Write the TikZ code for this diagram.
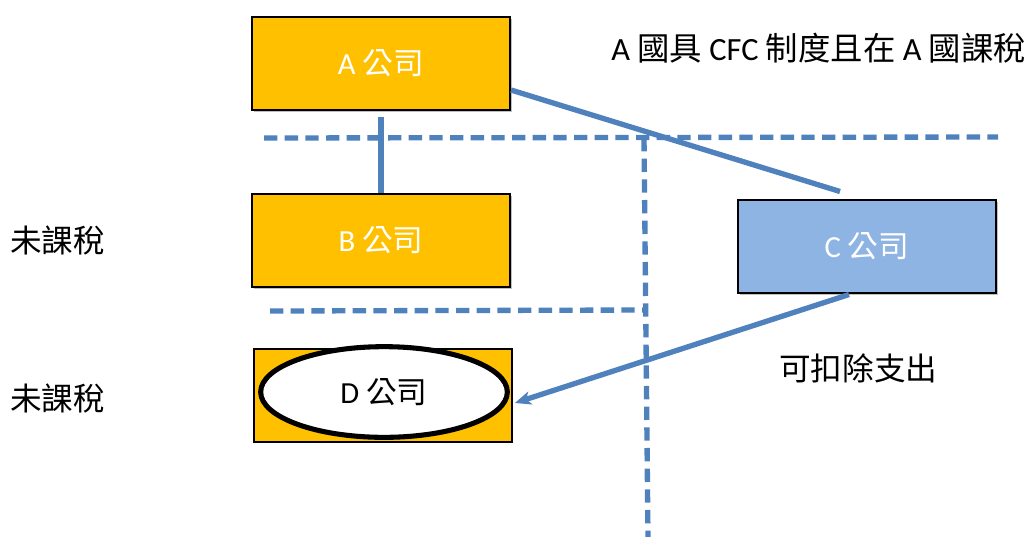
\documentclass[tikz,border=0pt]{standalone}
\usepackage{fontspec}
\setmainfont{Carlito}
\newfontfamily\cjk{Noto Sans CJK TC}
\usetikzlibrary{calc,shadows,arrows.meta,shapes.geometric}
\definecolor{boxorange}{HTML}{FFC000}
\definecolor{boxblue}{HTML}{8EB4E3}
\definecolor{lineblue}{HTML}{4F81BD}
\tikzset{
  company/.style={draw=black, line width=1.5pt, minimum width=193.5pt, minimum height=69.75pt,
    inner sep=0pt, font=\fontsize{23}{27}\selectfont},
  shadowed/.style={drop shadow={shadow xshift=1.5pt, shadow yshift=-1.5pt, opacity=0.25, fill=black}},
  orangebox/.style={company, shadowed, fill=boxorange, text=white},
  bluebox/.style={company, shadowed, fill=boxblue, text=white},
  dcirc/.style={draw=black, line width=3.8pt, fill=white, ellipse, minimum width=185pt, minimum height=68pt, inner sep=0pt,
    font=\fontsize{23}{27}\selectfont},
  link/.style={draw=lineblue, line width=4pt},
  border/.style={draw=lineblue, line width=4pt, dash pattern=on 10pt off 5.5pt},
  label/.style={font=\fontsize{23.7}{28}\selectfont, text=black, inner sep=0pt},
}
\begin{document}
\begin{tikzpicture}[x=0.75pt, y=-0.75pt]
\useasboundingbox (0,0) rectangle (1027,536);
% dashed boundaries
\coordinate (h1a) at (264,138);
\coordinate (h1b) at (998,137);
\coordinate (va) at (644,138);
\coordinate (vb) at (648,540);
\coordinate (h2a) at (270,311);
\coordinate (h2b) at (645,310);
\draw[border] (h1a) -- (h1b);
\draw[border] (va) -- (vb);
\draw[border] (h2a) -- (h2b);
% companies
\node[orangebox] (A) at (381,63.5) {A {\cjk 公司}};
\node[orangebox] (B) at (381,240) {B {\cjk 公司}};
\node[bluebox] (C) at (867,246) {C {\cjk 公司}};
\node[company, fill=boxorange] (D) at (383,395.5) {};
\node[dcirc] (Dc) at (384,392) {D {\cjk 公司}};
% connectors
\draw[link, shorten <=4.5pt] (A.south) -- (B.north);
\draw[link] ($(A.south east)+(0,-21)$) -- ($(C.north)+(-27,-7)$);
\draw[link, -{Stealth[length=12pt,width=10pt,inset=3pt]}] ($(C.south)+(-18,1)$) -- ($(Dc.east)+(5,11)$);
% labels
\node[label, anchor=west, font=\fontsize{24.3}{28}\selectfont] (t1) at (611,48) {A {\cjk 國具} CFC {\cjk 制度且在} A {\cjk 國課稅}};
\node[label, anchor=west] (u1) at (10,240) {\cjk 未課稅};
\node[label, anchor=west] (u2) at (10,398) {\cjk 未課稅};
\node[label, anchor=west] (dd) at (779,368) {\cjk 可扣除支出};
\end{tikzpicture}
\end{document}
